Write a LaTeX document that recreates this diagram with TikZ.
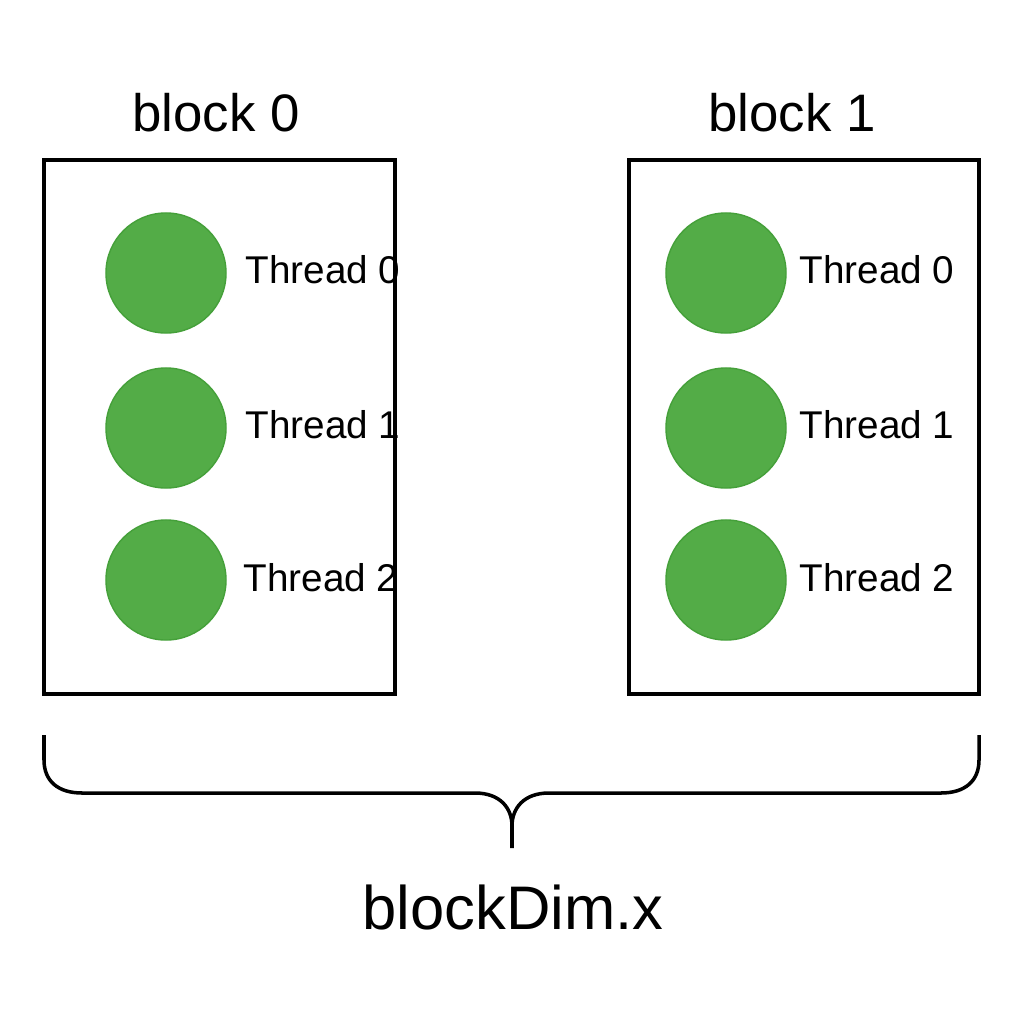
\documentclass[tikz,border=0pt]{standalone}
\usepackage{fontspec}
\setmainfont{Liberation Sans}
\definecolor{thgreen}{HTML}{53AC47}
\definecolor{thedge}{HTML}{45A03A}
\begin{document}
\begin{tikzpicture}[x=0.01cm,y=-0.01cm,
  blockbox/.style={draw=black,line width=0.95pt},
  thr/.style={circle,fill=thgreen,draw=thedge,line width=0.4pt,minimum size=1.2cm,inner sep=0pt},
  thrlabel/.style={anchor=west,inner sep=0pt,font=\fontsize{11}{13}\selectfont},
  blabel/.style={inner sep=0pt,font=\fontsize{15}{18}\selectfont},
  dimlabel/.style={inner sep=0pt,font=\fontsize{17.5}{20}\selectfont},
  bracestyle/.style={line width=1pt}]
\useasboundingbox (0,0) rectangle (1024,1024);
\fill[white] (0,0) rectangle (1024,1024);
% blocks
\draw[blockbox] (44,160) rectangle (395,694);
\draw[blockbox] (629,160) rectangle (979,694);
\node[blabel] (b0) at (216,113) {block 0};
\node[blabel] (b1) at (792,113) {block 1};
% threads block 0
\node[thr] (l0) at (166,273) {};
\node[thr] (l1) at (166,428) {};
\node[thr] (l2) at (166,580) {};
\node[thrlabel] (tl0) at (245,270) {Thread 0};
\node[thrlabel] (tl1) at (245,425) {Thread 1};
\node[thrlabel] (tl2) at (243,578) {Thread 2};
% threads block 1
\node[thr] (r0) at (726,273) {};
\node[thr] (r1) at (726,428) {};
\node[thr] (r2) at (726,580) {};
\node[thrlabel] (tr0) at (799,270) {Thread 0};
\node[thrlabel] (tr1) at (799,425) {Thread 1};
\node[thrlabel] (tr2) at (799,578) {Thread 2};
% brace
\coordinate (bl) at (44,735);
\coordinate (br) at (979,735);
\coordinate (tip) at (512,848);
\draw[bracestyle]
  (bl) -- (44,760) .. controls (44,781) and (58,793) .. (82,793)
  -- (475,793) .. controls (500,793) and (512,808) .. (512,826) -- (tip);
\draw[bracestyle]
  (br) -- (979,760) .. controls (979,781) and (965,793) .. (941,793)
  -- (549,793) .. controls (524,793) and (512,808) .. (512,826);
\node[dimlabel] (dim) at (513,907) {blockDim.x};
\end{tikzpicture}
\end{document}
